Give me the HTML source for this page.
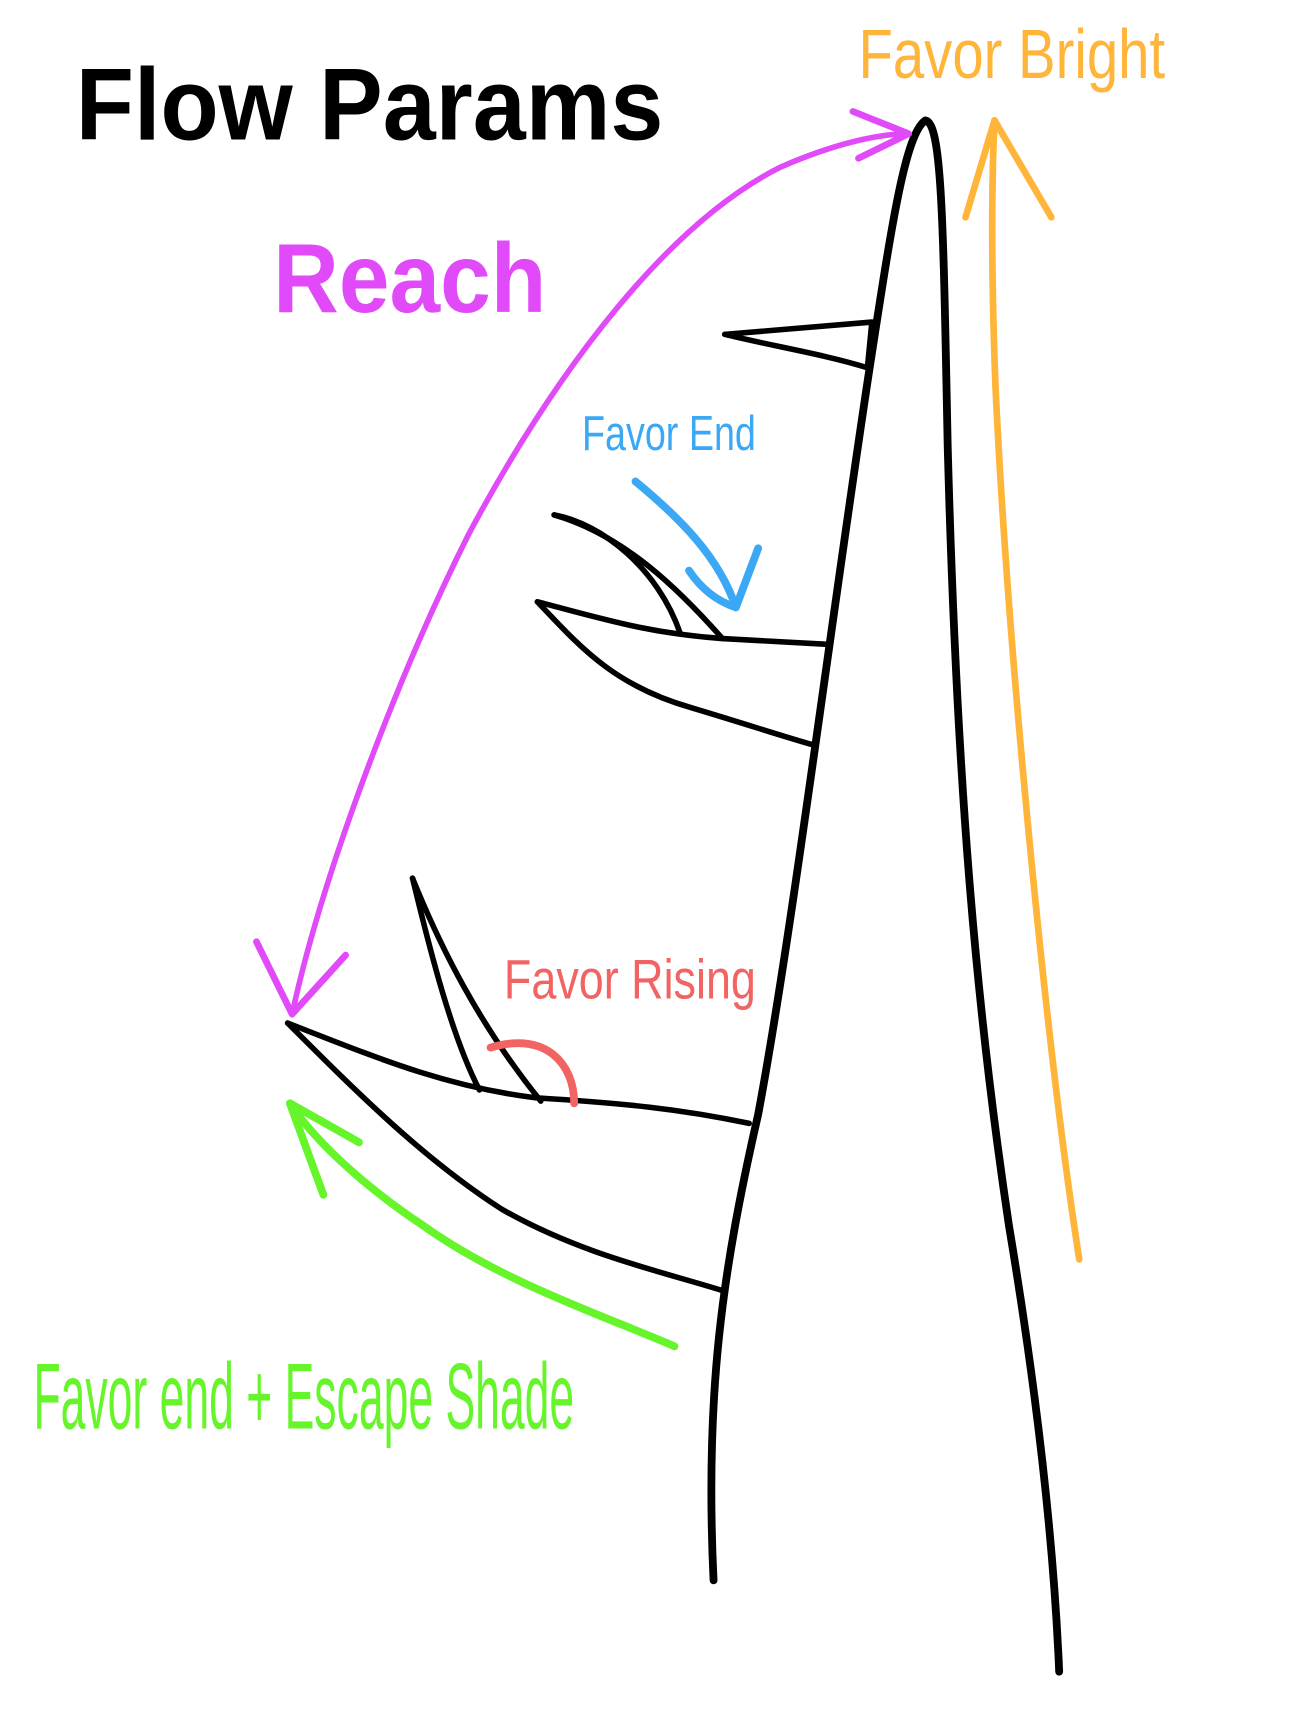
<!DOCTYPE html>
<html><head><style>
html,body{margin:0;padding:0;background:#fff;}
svg{display:block;}
</style></head><body>
<svg width="1300" height="1733" viewBox="0 0 1166 1555" preserveAspectRatio="none" xmlns="http://www.w3.org/2000/svg">
<rect width="1166" height="1555" fill="#fff"/>
<g fill="none" stroke-linecap="round" stroke-linejoin="round">
<!-- main stem -->
<path d="M640,1418 C632,1250 648,1140 680,1000 C710,840 745,560 780,330 C800,200 812,120 830,108 C845,110 846,200 850,400 C858,700 875,900 905,1100 C930,1250 945,1380 950,1500" stroke="#000" stroke-width="7"/>
<!-- branch 1 -->
<path d="M650,300 L782,289 L778,330 C740,318 690,310 650,300" stroke="#000" stroke-width="5"/>
<!-- branch 2 -->
<path d="M482,540 C540,555 580,568 648,573 L740,578" stroke="#000" stroke-width="5"/>
<path d="M482,540 C520,580 550,615 620,635 C670,650 700,660 728,668" stroke="#000" stroke-width="5"/>
<path d="M497,462 C540,470 590,510 610,568" stroke="#000" stroke-width="5"/>
<path d="M497,462 C560,480 610,530 648,573" stroke="#000" stroke-width="5"/>
<!-- branch 3 -->
<path d="M258,918 C340,950 400,975 480,985 C560,990 610,995 672,1008" stroke="#000" stroke-width="5"/>
<path d="M258,918 C320,980 380,1040 450,1085 C520,1125 590,1140 648,1158" stroke="#000" stroke-width="5"/>
<path d="M370,788 C385,850 405,930 430,978" stroke="#000" stroke-width="5"/>
<path d="M370,788 C395,850 430,920 485,988" stroke="#000" stroke-width="5"/>
<!-- red arc -->
<path d="M440,940 C490,925 515,955 515,990" stroke="#f26464" stroke-width="7"/>
<!-- magenta -->
<path d="M262,910 C290,780 360,600 420,480 C500,330 600,200 700,150 C750,128 790,120 815,120" stroke="#e04af8" stroke-width="5"/>
<path d="M765,100 L815,120 L770,142" stroke="#e04af8" stroke-width="6"/>
<path d="M230,845 L262,910 L310,857" stroke="#e04af8" stroke-width="6"/>
<!-- orange -->
<path d="M968,1130 C940,950 905,600 893,350 C888,220 890,150 892,108" stroke="#ffb43a" stroke-width="6"/>
<path d="M866,195 L892,108 L943,195" stroke="#ffb43a" stroke-width="6"/>
<!-- blue -->
<path d="M570,432 C610,465 645,500 660,545" stroke="#3aa8f5" stroke-width="7"/>
<path d="M618,512 C630,530 645,540 660,545 L680,492" stroke="#3aa8f5" stroke-width="7"/>
<!-- green -->
<path d="M605,1208 C540,1180 450,1150 380,1100 C320,1060 280,1020 260,990" stroke="#66f52a" stroke-width="7"/>
<path d="M290,1072 L260,990 L322,1025" stroke="#66f52a" stroke-width="7"/>
</g>
<g font-family="Liberation Sans, sans-serif">
<text x="68" y="125" font-size="92" font-weight="bold" fill="#000" textLength="527" lengthAdjust="spacingAndGlyphs">Flow Params</text>
<text x="245" y="280" font-size="88" font-weight="bold" fill="#e04af8" textLength="245" lengthAdjust="spacingAndGlyphs">Reach</text>
<text x="770" y="70" font-size="62" fill="#ffb43a" textLength="275" lengthAdjust="spacingAndGlyphs">Favor Bright</text>
<text x="522" y="404" font-size="44" fill="#3aa8f5" textLength="156" lengthAdjust="spacingAndGlyphs">Favor End</text>
<text x="452" y="896" font-size="50" fill="#f26464" textLength="226" lengthAdjust="spacingAndGlyphs">Favor Rising</text>
<text x="30" y="1282" font-size="84" fill="#66f52a" textLength="485" lengthAdjust="spacingAndGlyphs">Favor end + Escape Shade</text>
</g>
</svg>
</body></html>
